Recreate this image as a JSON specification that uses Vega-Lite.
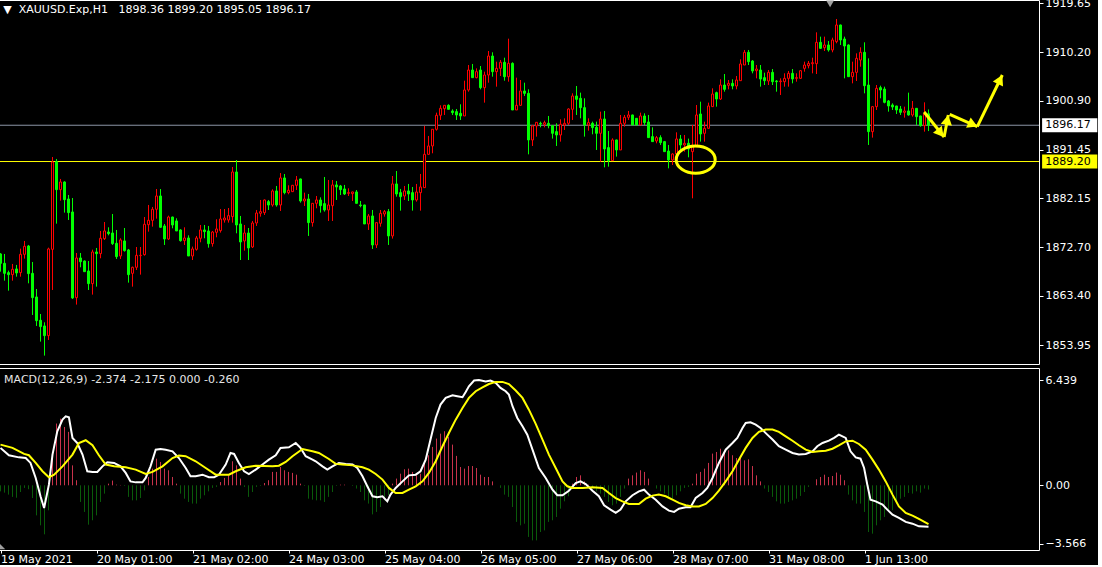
{
"$schema": "https://vega.github.io/schema/vega-lite/v6.json",
"background": "black",
"padding": {"left": -4, "top": -4, "right": 0, "bottom": 0},
"spacing": 2,
"config": {"view": {"stroke": "white", "strokeWidth": 1}, "font": "DejaVu Sans", "scale": {"continuousPadding": 0}, "axis": {"labelColor": "white", "tickColor": "white", "domainColor": "white", "labelFontSize": 11, "labelFont": "DejaVu Sans", "grid": false}},
"datasets": {
"candles": [
{"i":0,"o":1871.44,"h":1871.6,"l":1868.04,"c":1869.64,"hist":-0.37},
{"i":1,"o":1869.64,"h":1871.44,"l":1866.31,"c":1867.72,"hist":-0.45},
{"i":2,"o":1867.85,"h":1868.24,"l":1864.39,"c":1867.47,"hist":-0.57},
{"i":3,"o":1867.47,"h":1869.52,"l":1866.31,"c":1868.49,"hist":-0.71},
{"i":4,"o":1868.56,"h":1869.33,"l":1867.08,"c":1867.79,"hist":-0.76},
{"i":5,"o":1867.85,"h":1872.46,"l":1867.08,"c":1871.37,"hist":-0.41},
{"i":6,"o":1871.37,"h":1873.94,"l":1870.54,"c":1872.91,"hist":-0.16},
{"i":7,"o":1872.97,"h":1873.17,"l":1865.8,"c":1867.66,"hist":-0.24},
{"i":8,"o":1867.72,"h":1869.9,"l":1859.72,"c":1863.05,"hist":-0.78},
{"i":9,"o":1863.18,"h":1864.71,"l":1857.61,"c":1858.63,"hist":-1.84},
{"i":10,"o":1858.7,"h":1859.91,"l":1854.6,"c":1857.48,"hist":-2.45},
{"i":11,"o":1857.61,"h":1858.31,"l":1851.91,"c":1855.75,"hist":-3.0},
{"i":12,"o":1855.75,"h":1872.65,"l":1854.92,"c":1872.4,"hist":-1.53},
{"i":13,"o":1872.33,"h":1890.07,"l":1864.52,"c":1889.11,"hist":2.04},
{"i":14,"o":1889.17,"h":1889.69,"l":1877.26,"c":1883.8,"hist":3.78},
{"i":15,"o":1883.8,"h":1885.85,"l":1881.68,"c":1885.27,"hist":4.08},
{"i":16,"o":1885.27,"h":1885.4,"l":1879.38,"c":1881.87,"hist":3.57},
{"i":17,"o":1882.0,"h":1882.77,"l":1877.97,"c":1879.38,"hist":3.27},
{"i":18,"o":1879.51,"h":1882.19,"l":1862.79,"c":1862.99,"hist":1.22},
{"i":19,"o":1863.05,"h":1871.63,"l":1861.71,"c":1870.67,"hist":0.31},
{"i":20,"o":1870.67,"h":1871.63,"l":1868.88,"c":1869.96,"hist":-1.02},
{"i":21,"o":1870.09,"h":1870.2,"l":1868.04,"c":1868.04,"hist":-1.63},
{"i":22,"o":1868.17,"h":1870.09,"l":1864.52,"c":1865.74,"hist":-2.41},
{"i":23,"o":1865.74,"h":1872.27,"l":1863.63,"c":1871.82,"hist":-2.14},
{"i":24,"o":1871.82,"h":1872.59,"l":1865.16,"c":1871.5,"hist":-1.84},
{"i":25,"o":1871.5,"h":1875.86,"l":1870.61,"c":1874.45,"hist":-1.02},
{"i":26,"o":1874.38,"h":1877.58,"l":1874.13,"c":1875.86,"hist":-0.51},
{"i":27,"o":1875.66,"h":1876.56,"l":1875.02,"c":1875.34,"hist":0.1},
{"i":28,"o":1875.47,"h":1879.12,"l":1873.17,"c":1873.42,"hist":0.29},
{"i":29,"o":1873.49,"h":1876.05,"l":1870.48,"c":1870.93,"hist":0.04},
{"i":30,"o":1871.05,"h":1874.45,"l":1870.48,"c":1874.13,"hist":0.02},
{"i":31,"o":1873.94,"h":1876.43,"l":1871.89,"c":1872.08,"hist":-0.04},
{"i":32,"o":1872.21,"h":1872.4,"l":1865.93,"c":1867.47,"hist":-0.71},
{"i":33,"o":1867.72,"h":1869.0,"l":1865.16,"c":1868.88,"hist":-0.92},
{"i":34,"o":1868.88,"h":1872.78,"l":1868.36,"c":1871.18,"hist":-0.92},
{"i":35,"o":1871.12,"h":1872.78,"l":1867.47,"c":1871.18,"hist":-0.78},
{"i":36,"o":1871.31,"h":1878.54,"l":1871.12,"c":1877.14,"hist":-0.31},
{"i":37,"o":1877.07,"h":1880.85,"l":1875.73,"c":1877.9,"hist":0.51},
{"i":38,"o":1877.9,"h":1880.47,"l":1876.69,"c":1880.02,"hist":1.02},
{"i":39,"o":1880.02,"h":1883.92,"l":1878.22,"c":1882.58,"hist":1.63},
{"i":40,"o":1882.58,"h":1883.92,"l":1876.5,"c":1876.56,"hist":1.43},
{"i":41,"o":1876.82,"h":1877.2,"l":1873.17,"c":1874.32,"hist":1.02},
{"i":42,"o":1874.32,"h":1878.8,"l":1874.13,"c":1878.54,"hist":0.92},
{"i":43,"o":1878.54,"h":1878.6,"l":1876.37,"c":1877.01,"hist":0.51},
{"i":44,"o":1877.78,"h":1878.29,"l":1875.86,"c":1875.86,"hist":0.1},
{"i":45,"o":1876.05,"h":1876.18,"l":1873.81,"c":1874.0,"hist":-0.51},
{"i":46,"o":1874.0,"h":1876.56,"l":1873.17,"c":1874.51,"hist":-0.82},
{"i":47,"o":1874.51,"h":1875.02,"l":1871.05,"c":1871.05,"hist":-1.02},
{"i":48,"o":1871.05,"h":1872.85,"l":1870.28,"c":1872.4,"hist":-1.12},
{"i":49,"o":1872.33,"h":1874.9,"l":1872.08,"c":1874.51,"hist":-1.12},
{"i":50,"o":1874.45,"h":1877.01,"l":1873.68,"c":1876.05,"hist":-0.82},
{"i":51,"o":1876.05,"h":1877.01,"l":1874.45,"c":1875.73,"hist":-0.61},
{"i":52,"o":1875.86,"h":1876.82,"l":1872.65,"c":1873.42,"hist":-0.37},
{"i":53,"o":1873.42,"h":1875.86,"l":1872.85,"c":1875.66,"hist":-0.16},
{"i":54,"o":1875.6,"h":1878.1,"l":1874.64,"c":1876.24,"hist":-0.1},
{"i":55,"o":1875.92,"h":1880.08,"l":1875.54,"c":1878.16,"hist":0.2},
{"i":56,"o":1877.97,"h":1880.08,"l":1877.46,"c":1878.35,"hist":0.45},
{"i":57,"o":1877.97,"h":1880.27,"l":1877.46,"c":1878.8,"hist":0.61},
{"i":58,"o":1878.61,"h":1888.15,"l":1877.46,"c":1887.19,"hist":1.47},
{"i":59,"o":1887.19,"h":1889.49,"l":1875.41,"c":1877.01,"hist":1.22},
{"i":60,"o":1877.2,"h":1878.74,"l":1870.28,"c":1873.74,"hist":0.41},
{"i":61,"o":1873.94,"h":1877.01,"l":1872.08,"c":1875.47,"hist":-0.1},
{"i":62,"o":1875.47,"h":1876.43,"l":1870.28,"c":1872.59,"hist":-0.71},
{"i":63,"o":1872.78,"h":1877.78,"l":1872.59,"c":1877.39,"hist":-0.41},
{"i":64,"o":1877.39,"h":1879.89,"l":1876.82,"c":1879.31,"hist":-0.1},
{"i":65,"o":1879.25,"h":1881.81,"l":1878.61,"c":1879.57,"hist":-0.04},
{"i":66,"o":1879.38,"h":1881.9,"l":1878.93,"c":1881.81,"hist":0.14},
{"i":67,"o":1881.49,"h":1881.81,"l":1879.89,"c":1880.85,"hist":0.31},
{"i":68,"o":1880.85,"h":1883.86,"l":1880.53,"c":1883.54,"hist":0.82},
{"i":69,"o":1883.54,"h":1884.5,"l":1880.53,"c":1880.85,"hist":0.82},
{"i":70,"o":1880.85,"h":1886.99,"l":1879.7,"c":1886.04,"hist":1.12},
{"i":71,"o":1886.04,"h":1886.8,"l":1882.9,"c":1883.22,"hist":0.92},
{"i":72,"o":1883.22,"h":1884.63,"l":1882.9,"c":1883.67,"hist":0.82},
{"i":73,"o":1883.41,"h":1884.7,"l":1883.35,"c":1884.63,"hist":0.76},
{"i":74,"o":1884.63,"h":1886.42,"l":1883.73,"c":1885.65,"hist":0.65},
{"i":75,"o":1885.85,"h":1885.9,"l":1881.3,"c":1881.62,"hist":0.1},
{"i":76,"o":1881.62,"h":1883.22,"l":1880.66,"c":1882.0,"hist":-0.04},
{"i":77,"o":1882.0,"h":1882.96,"l":1874.9,"c":1877.46,"hist":-0.82},
{"i":78,"o":1877.46,"h":1881.17,"l":1876.69,"c":1881.17,"hist":-0.88},
{"i":79,"o":1881.17,"h":1882.58,"l":1880.21,"c":1881.81,"hist":-0.92},
{"i":80,"o":1881.81,"h":1882.32,"l":1879.38,"c":1880.72,"hist":-0.92},
{"i":81,"o":1881.11,"h":1886.23,"l":1879.57,"c":1879.89,"hist":-1.02},
{"i":82,"o":1879.89,"h":1885.65,"l":1877.78,"c":1880.85,"hist":-0.71},
{"i":83,"o":1880.72,"h":1885.65,"l":1877.78,"c":1884.7,"hist":-0.41},
{"i":84,"o":1884.7,"h":1885.46,"l":1881.81,"c":1884.31,"hist":-0.04},
{"i":85,"o":1884.5,"h":1884.7,"l":1882.77,"c":1883.8,"hist":0.04},
{"i":86,"o":1883.93,"h":1884.7,"l":1882.77,"c":1882.96,"hist":0.04},
{"i":87,"o":1883.09,"h":1884.05,"l":1882.58,"c":1883.22,"hist":0.0},
{"i":88,"o":1883.03,"h":1883.4,"l":1881.62,"c":1883.35,"hist":-0.04},
{"i":89,"o":1883.35,"h":1883.73,"l":1881.17,"c":1881.17,"hist":-0.2},
{"i":90,"o":1880.85,"h":1881.62,"l":1880.4,"c":1880.72,"hist":-0.41},
{"i":91,"o":1880.85,"h":1880.9,"l":1877.2,"c":1877.2,"hist":-0.92},
{"i":92,"o":1877.2,"h":1879.12,"l":1876.05,"c":1878.74,"hist":-1.12},
{"i":93,"o":1878.74,"h":1879.89,"l":1872.4,"c":1873.17,"hist":-1.78},
{"i":94,"o":1873.17,"h":1877.46,"l":1872.59,"c":1877.46,"hist":-1.63},
{"i":95,"o":1877.33,"h":1879.89,"l":1876.69,"c":1879.25,"hist":-1.33},
{"i":96,"o":1879.12,"h":1879.89,"l":1878.61,"c":1879.57,"hist":-0.92},
{"i":97,"o":1879.57,"h":1880.08,"l":1873.17,"c":1874.9,"hist":-0.61},
{"i":98,"o":1874.9,"h":1886.42,"l":1874.39,"c":1884.89,"hist":0.1},
{"i":99,"o":1884.89,"h":1887.38,"l":1882.45,"c":1882.96,"hist":0.41},
{"i":100,"o":1883.22,"h":1883.93,"l":1879.76,"c":1882.45,"hist":0.71},
{"i":101,"o":1882.58,"h":1884.5,"l":1881.81,"c":1883.54,"hist":0.98},
{"i":102,"o":1883.54,"h":1884.89,"l":1881.62,"c":1882.96,"hist":1.02},
{"i":103,"o":1883.22,"h":1884.31,"l":1879.76,"c":1881.81,"hist":0.82},
{"i":104,"o":1881.81,"h":1884.89,"l":1881.49,"c":1883.35,"hist":0.61},
{"i":105,"o":1883.22,"h":1886.81,"l":1879.76,"c":1884.31,"hist":0.71},
{"i":106,"o":1884.18,"h":1896.03,"l":1884.18,"c":1890.58,"hist":1.33},
{"i":107,"o":1890.58,"h":1894.11,"l":1890.58,"c":1892.19,"hist":1.84},
{"i":108,"o":1892.19,"h":1895.39,"l":1890.78,"c":1895.39,"hist":2.35},
{"i":109,"o":1895.39,"h":1898.59,"l":1895.13,"c":1898.08,"hist":2.86},
{"i":110,"o":1898.08,"h":1900.0,"l":1897.18,"c":1899.42,"hist":3.16},
{"i":111,"o":1899.36,"h":1900.0,"l":1898.14,"c":1900.0,"hist":3.31},
{"i":112,"o":1900.0,"h":1900.19,"l":1899.23,"c":1899.23,"hist":2.96},
{"i":113,"o":1898.91,"h":1899.23,"l":1898.14,"c":1898.59,"hist":2.49},
{"i":114,"o":1898.78,"h":1899.29,"l":1897.18,"c":1898.14,"hist":1.8},
{"i":115,"o":1898.46,"h":1900.19,"l":1897.18,"c":1897.95,"hist":1.12},
{"i":116,"o":1897.95,"h":1904.73,"l":1897.95,"c":1902.94,"hist":1.02},
{"i":117,"o":1902.94,"h":1907.74,"l":1902.62,"c":1906.78,"hist":1.18},
{"i":118,"o":1906.78,"h":1907.94,"l":1905.31,"c":1905.31,"hist":1.18},
{"i":119,"o":1905.31,"h":1907.1,"l":1905.18,"c":1906.46,"hist":1.06},
{"i":120,"o":1906.78,"h":1907.55,"l":1903.07,"c":1903.39,"hist":0.65},
{"i":121,"o":1903.39,"h":1906.46,"l":1900.51,"c":1905.82,"hist":0.51},
{"i":122,"o":1905.82,"h":1910.43,"l":1904.35,"c":1909.47,"hist":0.51},
{"i":123,"o":1909.47,"h":1910.18,"l":1905.5,"c":1906.46,"hist":0.24},
{"i":124,"o":1906.46,"h":1908.38,"l":1903.58,"c":1907.1,"hist":0.0},
{"i":125,"o":1907.1,"h":1908.7,"l":1905.63,"c":1908.26,"hist":-0.16},
{"i":126,"o":1908.26,"h":1909.15,"l":1904.73,"c":1905.5,"hist":-0.57},
{"i":127,"o":1905.5,"h":1912.8,"l":1904.54,"c":1908.06,"hist":-0.71},
{"i":128,"o":1908.06,"h":1908.26,"l":1899.1,"c":1899.1,"hist":-1.33},
{"i":129,"o":1899.1,"h":1905.31,"l":1899.1,"c":1900.0,"hist":-2.24},
{"i":130,"o":1900.0,"h":1904.86,"l":1899.87,"c":1902.75,"hist":-2.45},
{"i":131,"o":1902.75,"h":1904.35,"l":1901.79,"c":1902.3,"hist":-2.35},
{"i":132,"o":1902.3,"h":1903.07,"l":1890.58,"c":1893.34,"hist":-3.16},
{"i":133,"o":1893.34,"h":1896.22,"l":1892.19,"c":1896.03,"hist":-3.37},
{"i":134,"o":1896.03,"h":1896.73,"l":1893.98,"c":1896.73,"hist":-3.37},
{"i":135,"o":1896.54,"h":1896.86,"l":1895.77,"c":1896.41,"hist":-2.86},
{"i":136,"o":1896.35,"h":1897.05,"l":1895.77,"c":1896.67,"hist":-2.76},
{"i":137,"o":1896.54,"h":1897.95,"l":1895.58,"c":1896.09,"hist":-2.24},
{"i":138,"o":1896.09,"h":1896.15,"l":1893.6,"c":1894.62,"hist":-2.14},
{"i":139,"o":1894.94,"h":1896.54,"l":1892.19,"c":1894.3,"hist":-1.94},
{"i":140,"o":1894.3,"h":1897.31,"l":1893.02,"c":1896.35,"hist":-1.43},
{"i":141,"o":1896.22,"h":1897.5,"l":1895.26,"c":1896.54,"hist":-0.98},
{"i":142,"o":1896.54,"h":1899.42,"l":1896.22,"c":1899.29,"hist":-0.67},
{"i":143,"o":1899.23,"h":1902.3,"l":1897.18,"c":1901.79,"hist":0.1},
{"i":144,"o":1901.79,"h":1903.71,"l":1898.14,"c":1901.15,"hist":0.51},
{"i":145,"o":1901.34,"h":1902.43,"l":1897.5,"c":1899.55,"hist":0.61},
{"i":146,"o":1899.55,"h":1901.34,"l":1893.98,"c":1896.22,"hist":0.24},
{"i":147,"o":1896.22,"h":1897.5,"l":1895.13,"c":1896.67,"hist":0.04},
{"i":148,"o":1896.54,"h":1896.86,"l":1894.43,"c":1895.71,"hist":-0.16},
{"i":149,"o":1895.77,"h":1896.86,"l":1891.42,"c":1894.62,"hist":-0.37},
{"i":150,"o":1894.62,"h":1898.78,"l":1889.17,"c":1897.37,"hist":-0.51},
{"i":151,"o":1897.37,"h":1898.91,"l":1888.08,"c":1891.61,"hist":-0.71},
{"i":152,"o":1891.87,"h":1895.07,"l":1888.21,"c":1889.37,"hist":-1.02},
{"i":153,"o":1889.37,"h":1893.66,"l":1889.3,"c":1893.34,"hist":-1.22},
{"i":154,"o":1893.34,"h":1893.4,"l":1890.14,"c":1891.42,"hist":-1.12},
{"i":155,"o":1891.42,"h":1898.14,"l":1891.42,"c":1896.54,"hist":-0.71},
{"i":156,"o":1896.54,"h":1898.14,"l":1895.9,"c":1897.69,"hist":-0.2},
{"i":157,"o":1897.69,"h":1898.91,"l":1897.18,"c":1898.14,"hist":0.41},
{"i":158,"o":1898.14,"h":1898.2,"l":1896.22,"c":1896.22,"hist":0.61},
{"i":159,"o":1897.5,"h":1897.55,"l":1896.22,"c":1896.22,"hist":0.78},
{"i":160,"o":1896.22,"h":1898.59,"l":1896.22,"c":1897.95,"hist":0.92},
{"i":161,"o":1897.95,"h":1898.46,"l":1896.22,"c":1896.67,"hist":0.82},
{"i":162,"o":1896.8,"h":1898.14,"l":1893.79,"c":1893.79,"hist":0.41},
{"i":163,"o":1893.98,"h":1895.77,"l":1893.02,"c":1893.02,"hist":0.0},
{"i":164,"o":1893.15,"h":1894.11,"l":1892.7,"c":1893.79,"hist":-0.2},
{"i":165,"o":1893.79,"h":1894.24,"l":1892.38,"c":1892.83,"hist":-0.37},
{"i":166,"o":1893.02,"h":1893.15,"l":1891.1,"c":1891.1,"hist":-0.51},
{"i":167,"o":1891.22,"h":1892.38,"l":1887.89,"c":1889.5,"hist":-0.71},
{"i":168,"o":1889.5,"h":1890.78,"l":1888.53,"c":1890.65,"hist":-0.82},
{"i":169,"o":1890.65,"h":1894.81,"l":1888.85,"c":1893.53,"hist":-0.61},
{"i":170,"o":1893.53,"h":1894.3,"l":1891.42,"c":1892.38,"hist":-0.37},
{"i":171,"o":1892.38,"h":1894.3,"l":1891.1,"c":1892.7,"hist":-0.16},
{"i":172,"o":1892.7,"h":1893.6,"l":1890.01,"c":1891.61,"hist":-0.1},
{"i":173,"o":1891.1,"h":1896.22,"l":1882.13,"c":1892.06,"hist":0.1},
{"i":174,"o":1892.06,"h":1900.06,"l":1892.06,"c":1898.14,"hist":0.71},
{"i":175,"o":1898.33,"h":1900.7,"l":1893.02,"c":1894.49,"hist":0.82},
{"i":176,"o":1894.62,"h":1896.86,"l":1893.02,"c":1895.58,"hist":1.02},
{"i":177,"o":1895.58,"h":1900.51,"l":1895.58,"c":1899.87,"hist":1.37},
{"i":178,"o":1899.74,"h":1903.26,"l":1899.74,"c":1902.17,"hist":1.94},
{"i":179,"o":1902.43,"h":1902.62,"l":1899.74,"c":1901.21,"hist":2.04},
{"i":180,"o":1901.21,"h":1904.99,"l":1901.02,"c":1903.9,"hist":2.24},
{"i":181,"o":1903.9,"h":1906.01,"l":1902.62,"c":1903.07,"hist":2.04},
{"i":182,"o":1903.84,"h":1904.86,"l":1903.07,"c":1904.22,"hist":2.14},
{"i":183,"o":1904.22,"h":1904.99,"l":1903.07,"c":1903.71,"hist":1.84},
{"i":184,"o":1903.71,"h":1905.63,"l":1903.07,"c":1904.86,"hist":1.67},
{"i":185,"o":1904.73,"h":1908.83,"l":1904.73,"c":1907.94,"hist":1.73},
{"i":186,"o":1907.74,"h":1910.63,"l":1907.74,"c":1910.18,"hist":1.53},
{"i":187,"o":1910.18,"h":1910.63,"l":1907.74,"c":1908.38,"hist":1.59},
{"i":188,"o":1908.51,"h":1908.7,"l":1906.14,"c":1906.59,"hist":1.18},
{"i":189,"o":1906.65,"h":1907.74,"l":1905.18,"c":1906.97,"hist":0.61},
{"i":190,"o":1906.78,"h":1907.74,"l":1903.58,"c":1905.05,"hist":0.24},
{"i":191,"o":1905.31,"h":1906.27,"l":1903.9,"c":1904.73,"hist":-0.2},
{"i":192,"o":1904.67,"h":1906.78,"l":1903.9,"c":1906.33,"hist":-0.41},
{"i":193,"o":1906.33,"h":1906.97,"l":1903.9,"c":1904.54,"hist":-0.71},
{"i":194,"o":1904.67,"h":1904.86,"l":1902.62,"c":1904.54,"hist":-0.98},
{"i":195,"o":1904.54,"h":1905.18,"l":1901.98,"c":1904.67,"hist":-1.12},
{"i":196,"o":1904.54,"h":1906.14,"l":1903.58,"c":1905.18,"hist":-1.12},
{"i":197,"o":1905.18,"h":1906.59,"l":1903.58,"c":1906.14,"hist":-1.02},
{"i":198,"o":1906.14,"h":1906.97,"l":1904.22,"c":1905.06,"hist":-0.92},
{"i":199,"o":1905.18,"h":1906.14,"l":1904.54,"c":1905.31,"hist":-0.82},
{"i":200,"o":1905.18,"h":1906.78,"l":1905.06,"c":1906.65,"hist":-0.65},
{"i":201,"o":1907.1,"h":1908.38,"l":1906.46,"c":1907.74,"hist":-0.41},
{"i":202,"o":1907.61,"h":1908.51,"l":1907.1,"c":1908.06,"hist":-0.1},
{"i":203,"o":1907.99,"h":1909.15,"l":1906.14,"c":1908.19,"hist":0.0},
{"i":204,"o":1908.0,"h":1914.02,"l":1906.01,"c":1912.1,"hist":0.37},
{"i":205,"o":1912.1,"h":1913.19,"l":1910.82,"c":1910.95,"hist":0.51},
{"i":206,"o":1911.07,"h":1913.19,"l":1910.43,"c":1911.59,"hist":0.65},
{"i":207,"o":1911.59,"h":1912.35,"l":1910.31,"c":1910.63,"hist":0.51},
{"i":208,"o":1910.63,"h":1912.99,"l":1910.18,"c":1912.55,"hist":0.57},
{"i":209,"o":1912.23,"h":1916.58,"l":1911.91,"c":1915.43,"hist":0.78},
{"i":210,"o":1915.43,"h":1915.5,"l":1911.59,"c":1912.55,"hist":0.65},
{"i":211,"o":1912.74,"h":1913.19,"l":1905.18,"c":1911.39,"hist":0.31},
{"i":212,"o":1911.59,"h":1911.71,"l":1905.5,"c":1905.5,"hist":-0.57},
{"i":213,"o":1905.5,"h":1908.38,"l":1904.22,"c":1906.33,"hist":-0.92},
{"i":214,"o":1906.33,"h":1909.98,"l":1904.67,"c":1909.02,"hist":-1.12},
{"i":215,"o":1908.7,"h":1911.14,"l":1907.42,"c":1910.18,"hist":-1.12},
{"i":216,"o":1910.18,"h":1912.1,"l":1902.3,"c":1903.77,"hist":-1.63},
{"i":217,"o":1903.9,"h":1909.02,"l":1892.38,"c":1894.94,"hist":-2.86},
{"i":218,"o":1894.94,"h":1899.87,"l":1893.79,"c":1899.74,"hist":-2.96},
{"i":219,"o":1899.74,"h":1903.9,"l":1899.1,"c":1903.26,"hist":-2.45},
{"i":220,"o":1903.39,"h":1903.77,"l":1901.34,"c":1902.94,"hist":-2.14},
{"i":221,"o":1903.13,"h":1903.58,"l":1900.38,"c":1900.57,"hist":-1.94},
{"i":222,"o":1900.83,"h":1901.02,"l":1898.78,"c":1899.87,"hist":-1.53},
{"i":223,"o":1900.06,"h":1900.38,"l":1899.1,"c":1899.68,"hist":-1.53},
{"i":224,"o":1899.87,"h":1899.9,"l":1898.33,"c":1899.1,"hist":-0.98},
{"i":225,"o":1899.29,"h":1899.87,"l":1898.14,"c":1898.65,"hist":-0.82},
{"i":226,"o":1898.65,"h":1899.74,"l":1897.63,"c":1898.91,"hist":-0.71},
{"i":227,"o":1898.91,"h":1902.43,"l":1898.01,"c":1898.14,"hist":-0.47},
{"i":228,"o":1898.14,"h":1900.83,"l":1897.82,"c":1899.42,"hist":-0.51},
{"i":229,"o":1899.42,"h":1899.45,"l":1896.22,"c":1897.82,"hist":-0.37},
{"i":230,"o":1897.95,"h":1898.0,"l":1895.9,"c":1896.09,"hist":-0.45},
{"i":231,"o":1896.09,"h":1900.57,"l":1894.94,"c":1898.36,"hist":-0.2},
{"i":232,"o":1898.36,"h":1899.2,"l":1895.05,"c":1896.17,"hist":-0.26}
],
"macdline": [
{"i":0,"v":2.29},{"i":2.1,"v":1.84},{"i":4.6,"v":1.71},{"i":6.3,"v":1.67},{"i":7.5,"v":1.37},{"i":8.8,"v":0.45},{"i":10,"v":-0.67},{"i":10.9,"v":-1.39},{"i":12.1,"v":0.04},{"i":13,"v":1.88},{"i":14.2,"v":3.31},{"i":15.5,"v":4.02},{"i":16.3,"v":4.22},{"i":17.1,"v":4.16},{"i":18,"v":2.9},{"i":19.2,"v":2.59},{"i":20.5,"v":1.88},{"i":21.7,"v":0.86},{"i":23,"v":0.82},{"i":24.2,"v":0.82},{"i":25.5,"v":1.16},{"i":26.7,"v":1.41},{"i":28.4,"v":1.37},{"i":30,"v":1.16},{"i":31.3,"v":0.76},{"i":32.5,"v":0.24},{"i":33.8,"v":0.18},{"i":35.5,"v":0.18},{"i":36.3,"v":0.45},{"i":37.5,"v":1.16},{"i":38.8,"v":2.18},{"i":40,"v":2.22},{"i":41.3,"v":2.18},{"i":43,"v":2.08},{"i":44.6,"v":1.67},{"i":46.3,"v":1.06},{"i":47.5,"v":0.55},{"i":48.8,"v":0.55},{"i":50.5,"v":0.65},{"i":52.1,"v":0.49},{"i":53.4,"v":0.49},{"i":54.6,"v":0.65},{"i":56.3,"v":1.27},{"i":57.5,"v":1.98},{"i":58.4,"v":1.92},{"i":59.6,"v":1.37},{"i":60.9,"v":0.86},{"i":62.1,"v":0.69},{"i":63.8,"v":0.96},{"i":65.5,"v":1.27},{"i":67.1,"v":1.57},{"i":68.8,"v":1.84},{"i":70,"v":2.29},{"i":72.1,"v":2.33},{"i":73.8,"v":2.59},{"i":75,"v":2.29},{"i":76.3,"v":1.78},{"i":78,"v":1.57},{"i":78.8,"v":1.47},{"i":80.5,"v":1.16},{"i":81.7,"v":0.96},{"i":83,"v":1.16},{"i":84.6,"v":1.37},{"i":86.3,"v":1.31},{"i":88,"v":1.27},{"i":89.2,"v":1.06},{"i":90.5,"v":0.55},{"i":91.7,"v":-0.06},{"i":93,"v":-0.67},{"i":94.2,"v":-0.73},{"i":95.5,"v":-0.67},{"i":96.7,"v":-0.98},{"i":97.5,"v":-0.57},{"i":98.8,"v":-0.16},{"i":100.5,"v":0.24},{"i":102.1,"v":0.61},{"i":103.8,"v":0.65},{"i":105,"v":0.86},{"i":106.3,"v":1.57},{"i":107.5,"v":2.8},{"i":108.8,"v":4.12},{"i":110,"v":4.94},{"i":111.3,"v":5.35},{"i":113,"v":5.51},{"i":114.2,"v":5.45},{"i":115.5,"v":5.39},{"i":116.3,"v":5.71},{"i":117.1,"v":6.06},{"i":118.4,"v":6.41},{"i":119.6,"v":6.44},{"i":121.3,"v":6.35},{"i":122.5,"v":6.41},{"i":123.8,"v":6.27},{"i":125,"v":5.96},{"i":126.3,"v":5.76},{"i":127.1,"v":5.55},{"i":128,"v":4.84},{"i":129.2,"v":4.12},{"i":130.5,"v":3.61},{"i":131.7,"v":3.1},{"i":133,"v":2.18},{"i":134.6,"v":1.06},{"i":136.3,"v":0.45},{"i":138,"v":-0.27},{"i":139.2,"v":-0.61},{"i":140.5,"v":-0.61},{"i":142.1,"v":-0.33},{"i":143.8,"v":0.14},{"i":145,"v":0.24},{"i":146.3,"v":0.08},{"i":148,"v":-0.33},{"i":149.6,"v":-0.67},{"i":150.9,"v":-1.22},{"i":152.5,"v":-1.49},{"i":153.8,"v":-1.69},{"i":155,"v":-1.49},{"i":156.3,"v":-0.98},{"i":158,"v":-0.61},{"i":159.6,"v":-0.37},{"i":160.9,"v":-0.27},{"i":162.1,"v":-0.57},{"i":163.8,"v":-0.88},{"i":165.5,"v":-1.29},{"i":167.1,"v":-1.55},{"i":168.4,"v":-1.63},{"i":169.6,"v":-1.43},{"i":171.3,"v":-1.35},{"i":172.5,"v":-1.35},{"i":173.8,"v":-0.78},{"i":175.5,"v":-0.47},{"i":176.7,"v":-0.16},{"i":178,"v":0.45},{"i":179.6,"v":1.37},{"i":181.3,"v":2.18},{"i":183,"v":2.59},{"i":184.2,"v":2.9},{"i":185.5,"v":3.51},{"i":186.3,"v":3.82},{"i":187.5,"v":3.86},{"i":188.8,"v":3.71},{"i":190,"v":3.51},{"i":191.7,"v":3.1},{"i":193,"v":2.8},{"i":194.6,"v":2.39},{"i":196.3,"v":2.18},{"i":198,"v":1.98},{"i":199.6,"v":1.88},{"i":201.3,"v":1.92},{"i":203,"v":2.08},{"i":204.2,"v":2.39},{"i":205.5,"v":2.59},{"i":207.1,"v":2.73},{"i":208.4,"v":2.9},{"i":209.6,"v":3.1},{"i":211.3,"v":2.9},{"i":212.5,"v":2.08},{"i":213.8,"v":1.71},{"i":215,"v":1.63},{"i":215.9,"v":1.06},{"i":216.7,"v":0.04},{"i":217.5,"v":-0.88},{"i":218.8,"v":-0.98},{"i":220.5,"v":-1.18},{"i":221.7,"v":-1.49},{"i":223,"v":-1.8},{"i":224.6,"v":-2.0},{"i":226.3,"v":-2.24},{"i":228,"v":-2.35},{"i":229.6,"v":-2.51},{"i":232,"v":-2.53}
],
"signalline": [
{"i":0,"v":2.49},{"i":3,"v":2.29},{"i":5.9,"v":1.92},{"i":7.1,"v":1.84},{"i":8.8,"v":1.37},{"i":10.5,"v":0.86},{"i":12.1,"v":0.49},{"i":13.4,"v":0.65},{"i":15.5,"v":1.16},{"i":18,"v":1.88},{"i":19.6,"v":2.59},{"i":21.3,"v":2.76},{"i":23,"v":2.45},{"i":24.6,"v":1.84},{"i":26.3,"v":1.27},{"i":28.4,"v":1.16},{"i":31.3,"v":1.1},{"i":33.8,"v":0.96},{"i":36.3,"v":0.69},{"i":38,"v":0.82},{"i":40.5,"v":1.16},{"i":43,"v":1.67},{"i":44.6,"v":1.82},{"i":46.3,"v":1.78},{"i":48.8,"v":1.47},{"i":51.3,"v":1.06},{"i":53.8,"v":0.65},{"i":57.1,"v":0.65},{"i":58.8,"v":0.86},{"i":61.3,"v":1.1},{"i":63.8,"v":1.2},{"i":68,"v":1.16},{"i":69.6,"v":1.2},{"i":71.3,"v":1.43},{"i":73,"v":1.78},{"i":75.5,"v":2.22},{"i":78,"v":2.08},{"i":79.6,"v":1.98},{"i":82.1,"v":1.61},{"i":83.8,"v":1.31},{"i":85.5,"v":1.27},{"i":88,"v":1.22},{"i":90.5,"v":1.1},{"i":92.1,"v":0.96},{"i":93.8,"v":0.69},{"i":95.5,"v":0.35},{"i":97.1,"v":-0.16},{"i":98.8,"v":-0.47},{"i":100.5,"v":-0.47},{"i":102.1,"v":-0.27},{"i":103.8,"v":-0.06},{"i":105.5,"v":0.24},{"i":107.1,"v":0.76},{"i":108.8,"v":1.47},{"i":110.5,"v":2.39},{"i":112.1,"v":3.2},{"i":113.8,"v":4.02},{"i":115.5,"v":4.73},{"i":117.1,"v":5.35},{"i":118.8,"v":5.76},{"i":120.5,"v":6.0},{"i":122.1,"v":6.2},{"i":123.8,"v":6.33},{"i":125.5,"v":6.33},{"i":127.1,"v":6.2},{"i":128.8,"v":5.8},{"i":130.5,"v":5.35},{"i":132.1,"v":4.63},{"i":133.8,"v":3.76},{"i":135.5,"v":2.8},{"i":137.1,"v":1.88},{"i":138.8,"v":1.06},{"i":140.5,"v":0.24},{"i":141.7,"v":-0.06},{"i":143,"v":-0.16},{"i":145.5,"v":-0.16},{"i":148,"v":-0.12},{"i":150.5,"v":-0.16},{"i":152.1,"v":-0.47},{"i":153.8,"v":-0.78},{"i":155.5,"v":-0.98},{"i":157.1,"v":-1.14},{"i":159.6,"v":-1.14},{"i":161.3,"v":-0.82},{"i":163,"v":-0.63},{"i":164.6,"v":-0.57},{"i":166.3,"v":-0.67},{"i":168,"v":-0.88},{"i":169.6,"v":-1.08},{"i":171.3,"v":-1.22},{"i":173,"v":-1.29},{"i":174.6,"v":-1.29},{"i":176.3,"v":-1.14},{"i":178,"v":-0.78},{"i":179.6,"v":-0.33},{"i":181.3,"v":0.24},{"i":183,"v":0.86},{"i":184.6,"v":1.57},{"i":186.3,"v":2.29},{"i":188,"v":2.9},{"i":189.6,"v":3.27},{"i":191.3,"v":3.41},{"i":193,"v":3.41},{"i":194.6,"v":3.27},{"i":196.3,"v":3.0},{"i":198,"v":2.73},{"i":199.6,"v":2.45},{"i":201.3,"v":2.18},{"i":203,"v":2.04},{"i":204.6,"v":2.08},{"i":206.3,"v":2.12},{"i":208,"v":2.24},{"i":209.6,"v":2.45},{"i":211.3,"v":2.69},{"i":213,"v":2.73},{"i":214.6,"v":2.53},{"i":216.3,"v":2.18},{"i":218,"v":1.57},{"i":219.6,"v":0.96},{"i":221.3,"v":0.24},{"i":223,"v":-0.57},{"i":224.6,"v":-1.29},{"i":226.3,"v":-1.69},{"i":228,"v":-1.86},{"i":229.6,"v":-2.06},{"i":232,"v":-2.37}
],
"arrows": [
{"seg":1,"x":230.9,"y":1898.72},{"seg":1,"x":235.9,"y":1893.91},
{"seg":2,"x":235.9,"y":1893.91},{"seg":2,"x":236.95,"y":1898.14},
{"seg":3,"x":237.3,"y":1898.27},{"seg":3,"x":244.2,"y":1895.89},
{"seg":4,"x":244.2,"y":1895.89},{"seg":4,"x":250.45,"y":1905.82}
],
"heads": [
{"x":235.0,"y":1894.66,"ang":141},
{"x":236.7,"y":1897.2,"ang":11},
{"x":243.1,"y":1896.29,"ang":114},
{"x":249.9,"y":1904.96,"ang":26}
],
"marks": [
{"label":"1896.17","price":1896.17,"bg":"#ffffff","line":"#8c96a6"},
{"label":"1889.20","price":1889.2,"bg":"#ffff00","line":"#ffff00"}
],
"ellipse": [{"i":173.8,"price":1889.55}],
"shiftmark": [{"i":207.4,"price":1919.5}],
"header": [{"i":0.7,"price":1918.3,"text":"▼\u00a0\u00a0XAUUSD.Exp,H1\u00a0\u00a0\u00a01898.36 1899.20 1895.05 1896.17"}],
"macdheader": [{"i":0.9,"v":6.45,"text":"MACD(12,26,9) -2.374 -2.175 0.000 -0.260"}],
"corner": [{"i":0.4,"v":-3.72}]
},
"vconcat": [
{
"width": 1040, "height": 364,
"layer": [
{"data": {"name": "marks"}, "mark": {"type": "rule", "strokeWidth": 1}, "encoding": {"y": {"field": "price", "type": "quantitative", "scale": {"domain": [1850.3, 1920.23], "nice": false, "zero": false, "padding": 0}, "axis": {"orient": "right", "values": [1853.95, 1863.4, 1872.7, 1882.15, 1891.45, 1900.9, 1910.2, 1919.65], "format": ".2f", "tickSize": 4, "labelPadding": 2, "domain": false, "title": null, "labelBaseline": "middle"}}, "color": {"field": "line", "type": "nominal", "scale": null}}},
{"data": {"name": "candles"}, "mark": {"type": "rule", "strokeWidth": 1}, "encoding": {"x": {"field": "i", "type": "quantitative", "scale": {"domain": [-0.375, 259.625], "nice": false, "zero": false, "padding": 0}, "axis": null}, "y": {"field": "l", "type": "quantitative"}, "y2": {"field": "h"}, "color": {"condition": {"test": "datum.c >= datum.o", "value": "#ff0000"}, "value": "#00ff00"}}},
{"data": {"name": "candles"}, "mark": {"type": "bar", "size": 2, "strokeWidth": 1}, "encoding": {"x": {"field": "i", "type": "quantitative"}, "y": {"field": "o", "type": "quantitative"}, "y2": {"field": "c"}, "fill": {"condition": {"test": "datum.c >= datum.o", "value": "#000000"}, "value": "#00ff00"}, "stroke": {"condition": {"test": "datum.c >= datum.o", "value": "#ff0000"}, "value": "#00ff00"}}},
{"data": {"name": "ellipse"}, "mark": {"type": "point", "shape": "M -1 0 A 1 0.7 0 1 1 1 0 A 1 0.7 0 1 1 -1 0 Z", "size": 1521, "filled": false, "stroke": "#ffff00", "strokeWidth": 3, "opacity": 1}, "encoding": {"x": {"field": "i", "type": "quantitative"}, "y": {"field": "price", "type": "quantitative"}}},
{"data": {"name": "shiftmark"}, "mark": {"type": "point", "shape": "triangle-down", "size": 60, "filled": true, "color": "#a0a0a0", "opacity": 1}, "encoding": {"x": {"field": "i", "type": "quantitative"}, "y": {"field": "price", "type": "quantitative"}}},
{"data": {"name": "arrows"}, "mark": {"type": "line", "color": "#ffff00", "strokeWidth": 3, "clip": false}, "encoding": {"x": {"field": "x", "type": "quantitative"}, "y": {"field": "y", "type": "quantitative"}, "detail": {"field": "seg"}}},
{"data": {"name": "heads"}, "mark": {"type": "point", "shape": "triangle-up", "size": 130, "filled": true, "color": "#ffff00", "opacity": 1, "clip": false}, "encoding": {"x": {"field": "x", "type": "quantitative"}, "y": {"field": "y", "type": "quantitative"}, "angle": {"field": "ang", "type": "quantitative", "scale": null}}},
{"data": {"name": "marks"}, "mark": {"type": "rect", "clip": false, "yOffset": -7, "y2Offset": 7}, "encoding": {"x": {"datum": 260.4, "type": "quantitative"}, "x2": {"datum": 274.2}, "y": {"field": "price", "type": "quantitative"}, "y2": {"field": "price"}, "fill": {"field": "bg", "type": "nominal", "scale": null}}},
{"data": {"name": "marks"}, "mark": {"type": "text", "align": "left", "baseline": "middle", "color": "#000000", "fontSize": 11, "font": "DejaVu Sans", "clip": false}, "encoding": {"x": {"datum": 261.2, "type": "quantitative"}, "y": {"field": "price", "type": "quantitative"}, "text": {"field": "label"}}},
{"data": {"name": "header"}, "mark": {"type": "text", "align": "left", "baseline": "middle", "color": "#ffffff", "fontSize": 11, "font": "DejaVu Sans"}, "encoding": {"x": {"field": "i", "type": "quantitative"}, "y": {"field": "price", "type": "quantitative"}, "text": {"field": "text"}}}
]
},
{
"width": 1040, "height": 182,
"layer": [
{"data": {"name": "candles"}, "mark": {"type": "rule", "strokeWidth": 1}, "encoding": {"x": {"field": "i", "type": "quantitative", "scale": {"domain": [-0.375, 259.625], "nice": false, "zero": false, "padding": 0}, "axis": {"orient": "bottom", "values": [0, 24, 48, 72, 96, 120, 144, 168, 192, 216], "labelExpr": "['19 May 2021','20 May 01:00','21 May 02:00','24 May 03:00','25 May 04:00','26 May 05:00','27 May 06:00','28 May 07:00','31 May 08:00','1 Jun 13:00'][round(datum.value/24)]", "labelAlign": "left", "labelBaseline": "top", "labelPadding": 0, "labelFlush": false, "labelOverlap": false, "tickSize": 3, "domain": false, "title": null}}, "y": {"field": "hist", "type": "quantitative", "scale": {"domain": [-3.96, 7.18], "nice": false, "zero": false, "padding": 0}, "axis": {"orient": "right", "values": [6.439, 0, -3.566], "labelExpr": "datum.value == 0 ? '0.00' : format(datum.value, '.3f')", "tickSize": 4, "labelPadding": 2, "domain": false, "title": null}}, "y2": {"datum": 0}, "color": {"condition": {"test": "datum.hist >= 0", "value": "#c8324b"}, "value": "#0a5a0a"}}},
{"data": {"name": "macdline"}, "mark": {"type": "line", "color": "#ffffff", "strokeWidth": 2}, "encoding": {"x": {"field": "i", "type": "quantitative"}, "y": {"field": "v", "type": "quantitative"}}},
{"data": {"name": "signalline"}, "mark": {"type": "line", "color": "#ffff00", "strokeWidth": 2}, "encoding": {"x": {"field": "i", "type": "quantitative"}, "y": {"field": "v", "type": "quantitative"}}},
{"data": {"name": "corner"}, "mark": {"type": "point", "shape": "M -1 -1 L 1 1 L -1 1 Z", "size": 40, "filled": true, "color": "#a0a0a0", "opacity": 1}, "encoding": {"x": {"field": "i", "type": "quantitative"}, "y": {"field": "v", "type": "quantitative"}}},
{"data": {"name": "macdheader"}, "mark": {"type": "text", "align": "left", "baseline": "middle", "color": "#e6e6e6", "fontSize": 11, "font": "DejaVu Sans"}, "encoding": {"x": {"field": "i", "type": "quantitative"}, "y": {"field": "v", "type": "quantitative"}, "text": {"field": "text"}}}
]
}
]
}
